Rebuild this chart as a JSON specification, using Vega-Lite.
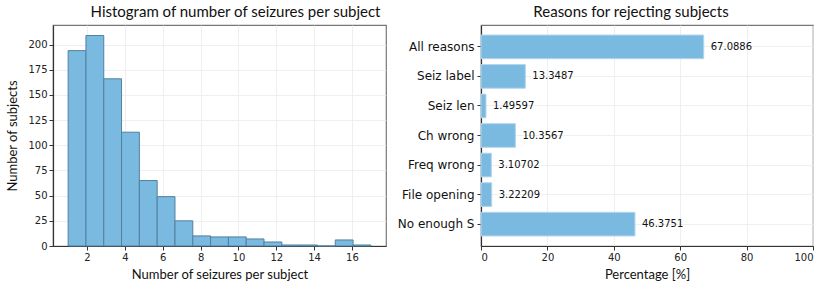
{
  "$schema": "https://vega.github.io/schema/vega-lite/v6.json",
  "background": "white",
  "padding": {"left": 6, "top": 4, "right": 15, "bottom": 0},
  "spacing": 9,
  "config": {
    "view": {"stroke": "#777777", "strokeWidth": 1.2},
    "axis": {
      "labelFont": "DejaVu Sans", "labelFontSize": 10, "labelColor": "#222222",
      "titleFont": "Lato", "titleFontSize": 13, "titleFontWeight": "normal", "titleColor": "#111111",
      "tickColor": "#333333", "tickSize": 4, "domainColor": "#333333", "domainWidth": 1.2,
      "gridColor": "#ebebeb", "gridWidth": 0.8
    },
    "title": {"font": "Lato", "fontSize": 15, "fontWeight": "normal", "color": "#111111", "offset": 5}
  },
  "datasets": {
    "hist": [
      {"start": 1.0, "end": 1.9412, "count": 194},
      {"start": 1.9412, "end": 2.8824, "count": 209},
      {"start": 2.8824, "end": 3.8235, "count": 166},
      {"start": 3.8235, "end": 4.7647, "count": 113},
      {"start": 4.7647, "end": 5.7059, "count": 65},
      {"start": 5.7059, "end": 6.6471, "count": 49},
      {"start": 6.6471, "end": 7.5882, "count": 25},
      {"start": 7.5882, "end": 8.5294, "count": 10},
      {"start": 8.5294, "end": 9.4706, "count": 9},
      {"start": 9.4706, "end": 10.4118, "count": 9},
      {"start": 10.4118, "end": 11.3529, "count": 7},
      {"start": 11.3529, "end": 12.2941, "count": 4},
      {"start": 12.2941, "end": 13.2353, "count": 1},
      {"start": 13.2353, "end": 14.1765, "count": 1},
      {"start": 14.1765, "end": 15.1176, "count": 0},
      {"start": 15.1176, "end": 16.0588, "count": 6},
      {"start": 16.0588, "end": 17.0, "count": 1}
    ],
    "reasons": [
      {"reason": "All reasons", "pct": 67.0886},
      {"reason": "Seiz label", "pct": 13.3487},
      {"reason": "Seiz len", "pct": 1.49597},
      {"reason": "Ch wrong", "pct": 10.3567},
      {"reason": "Freq wrong", "pct": 3.10702},
      {"reason": "File opening", "pct": 3.22209},
      {"reason": "No enough S", "pct": 46.3751}
    ]
  },
  "hconcat": [
    {
      "width": 333,
      "height": 221,
      "title": {"text": "Histogram of number of seizures per subject", "dx": 16},
      "data": {"name": "hist"},
      "mark": {"type": "rect", "fill": "#7ab9e0", "stroke": "#52809f", "strokeWidth": 1},
      "encoding": {
        "x": {"field": "start", "type": "quantitative",
          "scale": {"domain": [0.2, 17.8], "nice": false, "zero": false},
          "axis": {"values": [2, 4, 6, 8, 10, 12, 14, 16], "title": "Number of seizures per subject", "titlePadding": 6}},
        "x2": {"field": "end"},
        "y": {"field": "count", "type": "quantitative",
          "scale": {"domain": [0, 219.45], "nice": false},
          "axis": {"values": [0, 25, 50, 75, 100, 125, 150, 175, 200], "title": "Number of subjects", "titlePadding": 8}}
      }
    },
    {
      "width": 332,
      "height": 221,
      "title": {"text": "Reasons for rejecting subjects", "dx": -16},
      "data": {"name": "reasons"},
      "encoding": {
        "y": {"field": "reason", "type": "nominal", "sort": null,
          "scale": {"paddingInner": 0.2, "paddingOuter": 0.34},
          "axis": {"title": null, "labelFontSize": 12, "labelColor": "#111111", "bandPosition": 0.5, "grid": true, "labelPadding": 3, "minExtent": 80, "maxExtent": 80}},
        "x": {"field": "pct", "type": "quantitative",
          "scale": {"domain": [0, 100], "nice": false},
          "axis": {"values": [0, 20, 40, 60, 80, 100], "title": "Percentage [%]", "titlePadding": 6}}
      },
      "layer": [
        {"mark": {"type": "bar", "fill": "#7ab9e0", "stroke": "#b3d5ec", "strokeWidth": 1}},
        {"mark": {"type": "text", "align": "left", "baseline": "middle", "dx": 7, "font": "DejaVu Sans", "fontSize": 10, "color": "#111111"},
          "encoding": {"text": {"field": "pct", "type": "quantitative", "format": ".6~g"}}}
      ]
    }
  ]
}
